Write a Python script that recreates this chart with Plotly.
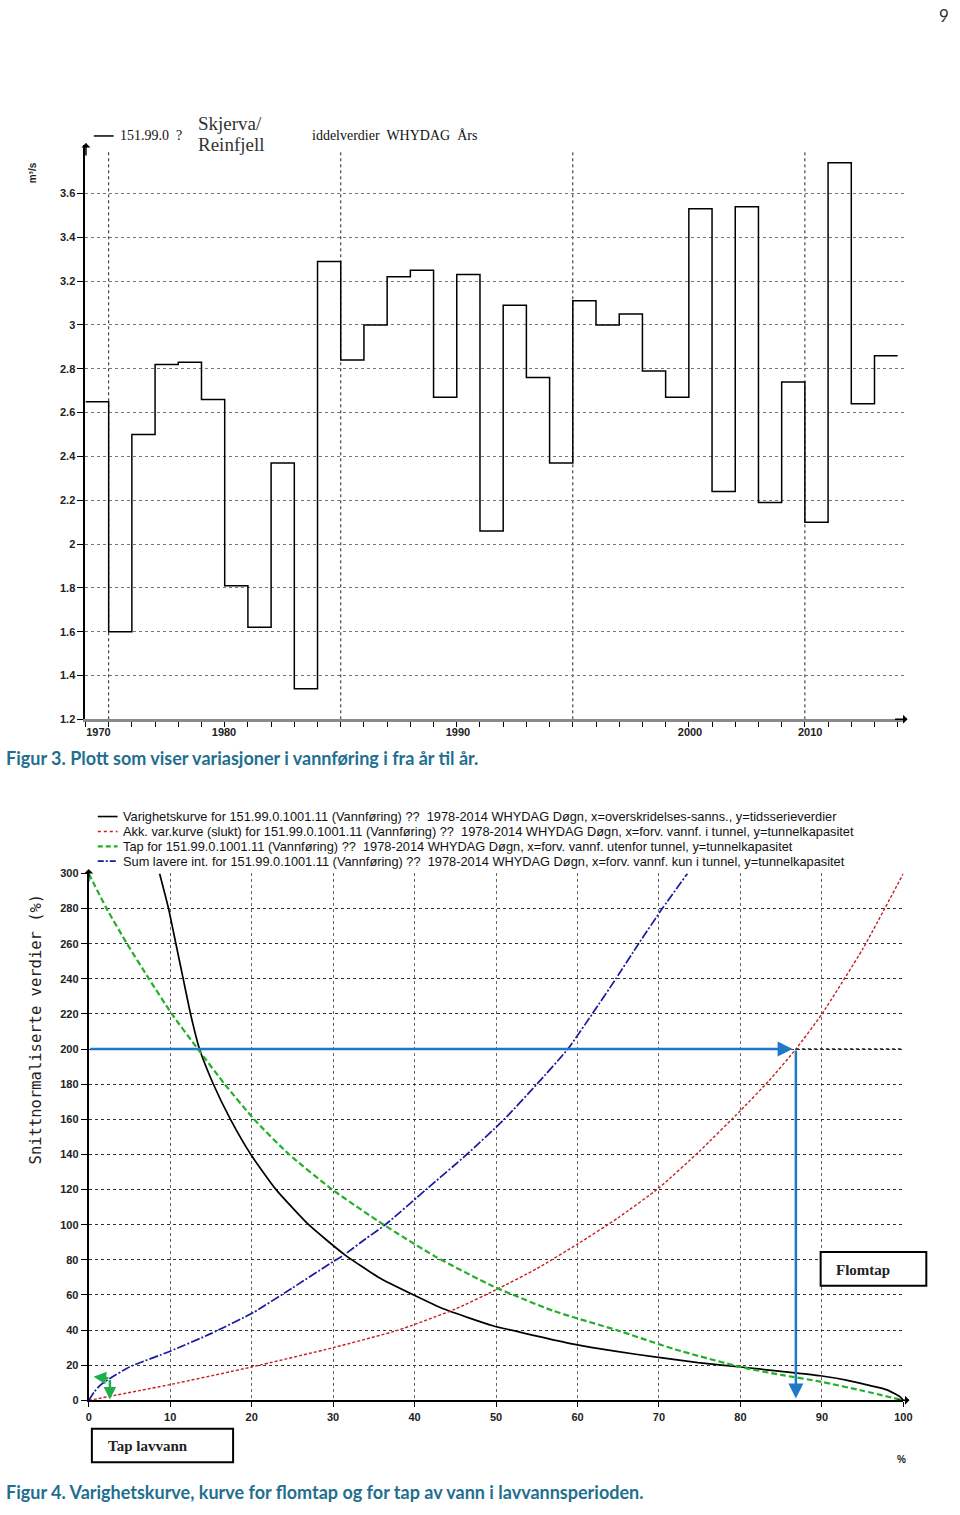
import plotly.graph_objects as go

W, H = 960, 1515


def px(x):
    return x / W


def py(y):
    return 1 - y / H


# ---------------- Figur 3 data ----------------
years = list(range(1979, 2014))
flow = [2.65, 1.60, 2.50, 2.82, 2.83, 2.66, 1.81, 1.62, 2.37, 1.34,
        3.29, 2.84, 3.00, 3.22, 3.25, 2.67, 3.23, 2.06, 3.09, 2.76,
        2.37, 3.11, 3.00, 3.05, 2.79, 2.67, 3.53, 2.24, 3.54, 2.19,
        2.74, 2.10, 3.74, 2.64, 2.86]
top_grid_years = [1980, 1990, 2000, 2010]
top_xtick_pos = [1979.56, 1984.97, 1995.05, 2005.05, 2010.23]
top_xtick_text = ["1970", "1980", "1990", "2000", "2010"]
top_ytick_vals = [1.2, 1.4, 1.6, 1.8, 2.0, 2.2, 2.4, 2.6, 2.8, 3.0, 3.2, 3.4, 3.6]
top_ytick_text = ["1.2", "1.4", "1.6", "1.8", "2", "2.2", "2.4", "2.6", "2.8", "3", "3.2", "3.4", "3.6"]

# ---------------- Figur 4 data ----------------
var_x = [8.7, 9.8, 10.7, 11.6, 12.5, 13.6, 15.3, 17.4, 19.9, 23.0, 27.0, 31.4, 35.6,
         39.9, 43.6, 49.6, 54.6, 59.5, 64.6, 69.7, 74.8, 80.0, 85.0, 89.8, 93.0, 95.8, 98.0, 99.6, 100]
var_y = [300, 280, 260, 240, 220, 200, 180, 160, 140, 120, 100, 83, 70,
         60, 52, 42.5, 37, 32, 28, 24.6, 21.5, 19, 16.5, 14, 11.5, 8.5, 6, 2, 0]

akk_x = [0, 10, 20, 30, 38, 45, 50, 55, 60, 65, 70, 75, 80, 83.5, 86.8, 90, 95, 100]
akk_y = [0, 9, 19, 30, 40, 52, 63, 75, 89, 104, 121, 142, 165, 182, 200, 220, 257, 300]

tap_x = [0, 2.2, 4.7, 7.4, 10.2, 13.4, 16.7, 20.3, 24.6, 29.9, 36.2, 42.5, 49.6, 57, 64.8,
         72, 80, 85, 90, 95, 100]
tap_y = [300, 280, 260, 240, 220, 200, 180, 160, 140, 120, 100, 82, 65, 51, 40,
         29, 19, 14.5, 10.5, 5.5, 0]

sum_x = [0, 0.7, 1.5, 2.6, 5, 10, 15, 20.2, 25, 30, 31.4, 34, 36.4, 41.4, 46.4, 51,
         55, 58.8, 61.8, 64.7, 67.5, 70.4, 73.5]
sum_y = [0, 5, 9, 12.5, 19, 28, 38, 50, 64, 79, 83, 92, 100, 120, 140, 160,
         180, 200, 220, 240, 260, 280, 300]

bot_xticks = list(range(0, 101, 10))
bot_yticks = list(range(0, 301, 20))
capacity_level = 200
capacity_exceed = 86.8
low_loss_x = 2.6
low_loss_y = 12.5

legend_texts = [
    "Varighetskurve for 151.99.0.1001.11 (Vannføring) ??  1978-2014 WHYDAG Døgn, x=overskridelses-sanns., y=tidsserieverdier",
    "Akk. var.kurve (slukt) for 151.99.0.1001.11 (Vannføring) ??  1978-2014 WHYDAG Døgn, x=forv. vannf. i tunnel, y=tunnelkapasitet",
    "Tap for 151.99.0.1001.11 (Vannføring) ??  1978-2014 WHYDAG Døgn, x=forv. vannf. utenfor tunnel, y=tunnelkapasitet",
    "Sum lavere int. for 151.99.0.1001.11 (Vannføring) ??  1978-2014 WHYDAG Døgn, x=forv. vannf. kun i tunnel, y=tunnelkapasitet",
]

NARROW = "Liberation Sans Narrow, Arial Narrow, Liberation Sans, sans-serif"
SANS = "Liberation Sans, Arial, sans-serif"
SERIF = "Liberation Serif, Times New Roman, serif"
tickfont = dict(family=NARROW, size=11, color="#222", weight="bold")

fig = go.Figure()

# top step chart
fig.add_trace(go.Scatter(
    x=years + [years[-1] + 1], y=flow + [flow[-1]], mode="lines", line_shape="hv",
    line=dict(color="black", width=1.5), xaxis="x", yaxis="y", showlegend=False,
    name="151.99.0"))

# bottom curves
styles = [
    (var_x, var_y, dict(color="black", width=1.7), "Varighetskurve"),
    (akk_x, akk_y, dict(color="#c42020", width=1.4, dash="3px,2px"), "Akk. var.kurve"),
    (tap_x, tap_y, dict(color="#22b02a", width=2.2, dash="6px,3px"), "Tap"),
    (sum_x, sum_y, dict(color="#1a1aa0", width=1.7, dash="9px,2px,2px,2px"), "Sum lavere int."),
]
for xs, ys, ln, nm in styles:
    ln = dict(ln, shape="spline", smoothing=0.5)
    fig.add_trace(go.Scatter(x=xs, y=ys, mode="lines", line=ln, xaxis="x2", yaxis="y2",
                             showlegend=False, name=nm))

shapes = []
annotations = []

# vertical dotted decade grid lines (top)
for yr in top_grid_years:
    shapes.append(dict(type="line", xref="x", yref="y", x0=yr, x1=yr, y0=1.2, y1=3.795,
                       line=dict(color="#222", width=1, dash="dot"), layer="below"))

# dotted extension at capacity level
shapes.append(dict(type="line", xref="x2", yref="y2", x0=capacity_exceed, x1=100,
                   y0=capacity_level, y1=capacity_level,
                   line=dict(color="#222", width=1.5, dash="dot")))

# blue arrows
annotations.append(dict(x=capacity_exceed - 0.4, y=capacity_level, xref="x2", yref="y2",
                        ax=0, ay=capacity_level, axref="x2", ayref="y2", text="",
                        showarrow=True, arrowhead=2, arrowwidth=2.5, arrowsize=1.2,
                        arrowcolor="#1f78c8"))
annotations.append(dict(x=capacity_exceed, y=1, xref="x2", yref="y2",
                        ax=capacity_exceed, ay=capacity_level, axref="x2", ayref="y2", text="",
                        showarrow=True, arrowhead=2, arrowwidth=2.5, arrowsize=1.2,
                        arrowcolor="#1f78c8"))
# green arrows
annotations.append(dict(x=0.6, y=low_loss_y + 1, xref="x2", yref="y2",
                        ax=low_loss_x, ay=low_loss_y, axref="x2", ayref="y2", text="",
                        showarrow=True, arrowhead=2, arrowwidth=2.5, arrowsize=1,
                        arrowcolor="#1fae4b"))
annotations.append(dict(x=low_loss_x, y=0.5, xref="x2", yref="y2",
                        ax=low_loss_x, ay=low_loss_y, axref="x2", ayref="y2", text="",
                        showarrow=True, arrowhead=2, arrowwidth=2.5, arrowsize=1,
                        arrowcolor="#1fae4b"))


def axis_arrow(xh, yh, ax, ay):
    annotations.append(dict(x=px(xh), y=py(yh), xref="paper", yref="paper", ax=ax, ay=ay,
                            text="", showarrow=True, arrowhead=1, arrowwidth=1.5,
                            arrowsize=1, arrowcolor="black"))


axis_arrow(84, 138, 0, 14)
axis_arrow(916, 719, -14, 0)
axis_arrow(86.8, 870, 0, 14)
axis_arrow(918, 1405.5, -14, 0)


def text(x, y, s, size=12, family=NARROW, color="#222", anchor="left", angle=0, weight="normal"):
    annotations.append(dict(x=px(x), y=py(y), xref="paper", yref="paper", text=s,
                            showarrow=False, xanchor=anchor, yanchor="middle",
                            textangle=angle,
                            font=dict(family=family, size=size, color=color, weight=weight)))


# top legend / title texts
shapes.append(dict(type="line", xref="paper", yref="paper", x0=px(92), x1=px(112),
                   y0=py(131), y1=py(131), line=dict(color="black", width=1.5)))
text(116, 131, "151.99.0  ?", size=14, family=SERIF, color="#111")
text(195, 118, "Skjerva/", size=19, family=SERIF, color="#333")
text(195, 140, "Reinfjell", size=19, family=SERIF, color="#333")
text(311, 131, "iddelverdier  WHYDAG  Års", size=14, family=SERIF, color="#111")
text(30, 168, "m³/s", size=10, anchor="center", angle=-90, weight="bold")

# bottom legend
leg_lines = [dict(color="black", width=1.6),
             dict(color="#c42020", width=1.5, dash="dot"),
             dict(color="#22b02a", width=2.2, dash="5px,3px"),
             dict(color="#1a1aa0", width=1.6, dash="6px,2px,2px,2px")]
for i, (t, ln) in enumerate(zip(legend_texts, leg_lines)):
    yy = 817 + 15 * i
    shapes.append(dict(type="line", xref="paper", yref="paper", x0=px(96), x1=px(116),
                       y0=py(yy), y1=py(yy), line=ln))
    text(119, yy, t, size=12.8, family=SANS, color="#111")

text(33, 1031, "Snittnormaliserte verdier (%)", size=15.5,
     family="DejaVu Sans Mono, monospace", anchor="center", angle=-90)

# boxes
shapes.append(dict(type="rect", xref="paper", yref="paper", x0=px(828), x1=px(935),
                   y0=py(1290), y1=py(1256), line=dict(color="black", width=2),
                   fillcolor="white"))
text(842, 1274, "Flomtap", size=15, family=SERIF, weight="bold")
shapes.append(dict(type="rect", xref="paper", yref="paper", x0=px(90), x1=px(233),
                   y0=py(1468), y1=py(1434), line=dict(color="black", width=2),
                   fillcolor="white"))
text(104, 1452, "Tap lavvann", size=15, family=SERIF, weight="bold")
text(910, 1465, "%", size=10, anchor="center", weight="bold")

# captions and page number
CAP = "Lato, Noto Sans, sans-serif"
text(1, 758, "Figur 3. Plott som viser variasjoner i vannføring i fra år til år.",
     size=18, family=CAP, color="#1f6f8f", weight="bold")
text(1, 1498, "Figur 4. Varighetskurve, kurve for flomtap og for tap av vann i lavvannsperioden.",
     size=18, family=CAP, color="#1f6f8f", weight="bold")
text(953, 10, "9", size=17, family=CAP, color="#333", anchor="center")

fig.update_layout(
    width=W, height=H, margin=dict(l=0, r=0, t=0, b=0),
    paper_bgcolor="white", plot_bgcolor="white", showlegend=False,
    shapes=shapes, annotations=annotations,
    xaxis=dict(domain=[px(83.5), px(911.9)], range=[1979, 2014.25], anchor="y",
               showline=True, linecolor="#8a8a8a", linewidth=3, zeroline=False,
               tickmode="array", tickvals=top_xtick_pos, ticktext=top_xtick_text,
               ticks="", showgrid=False, tickfont=tickfont,
               minor=dict(tickmode="linear", tick0=1979, dtick=1, ticks="outside",
                          ticklen=5, tickwidth=1, tickcolor="black", showgrid=False)),
    yaxis=dict(domain=[py(719), py(140)], range=[1.2, 3.822], anchor="x",
               showline=True, linecolor="black", linewidth=2, zeroline=False,
               tickmode="array", tickvals=top_ytick_vals, ticktext=top_ytick_text,
               ticks="outside", ticklen=6, tickcolor="black", tickfont=tickfont,
               showgrid=True, gridcolor="#777", griddash="dot", gridwidth=1),
    xaxis2=dict(domain=[px(86.8), px(911.8)], range=[0, 100], anchor="y2",
                showline=True, linecolor="black", linewidth=2, zeroline=False,
                tickmode="array", tickvals=bot_xticks, ticks="outside", ticklen=5,
                tickcolor="black", tickfont=tickfont,
                showgrid=True, gridcolor="#666", griddash="dot", gridwidth=1),
    yaxis2=dict(domain=[py(1405.5), py(874.4)], range=[0, 300], anchor="x2",
                showline=True, linecolor="black", linewidth=2, zeroline=False,
                tickmode="array", tickvals=bot_yticks, ticks="outside", ticklen=6,
                tickcolor="black", tickfont=tickfont,
                showgrid=True, gridcolor="#333", griddash="dot", gridwidth=1),
)

fig.write_html(
    "out.html", config={"displayModeBar": False},
    post_script=(
        "document.documentElement.style.margin='0';"
        "document.documentElement.style.padding='0';"
        "document.body.style.margin='0';document.body.style.padding='0';"
        "var d=document.getElementById('{plot_id}');"
        "d.style.position='absolute';d.style.left='0px';d.style.top='0px';"
    ))
